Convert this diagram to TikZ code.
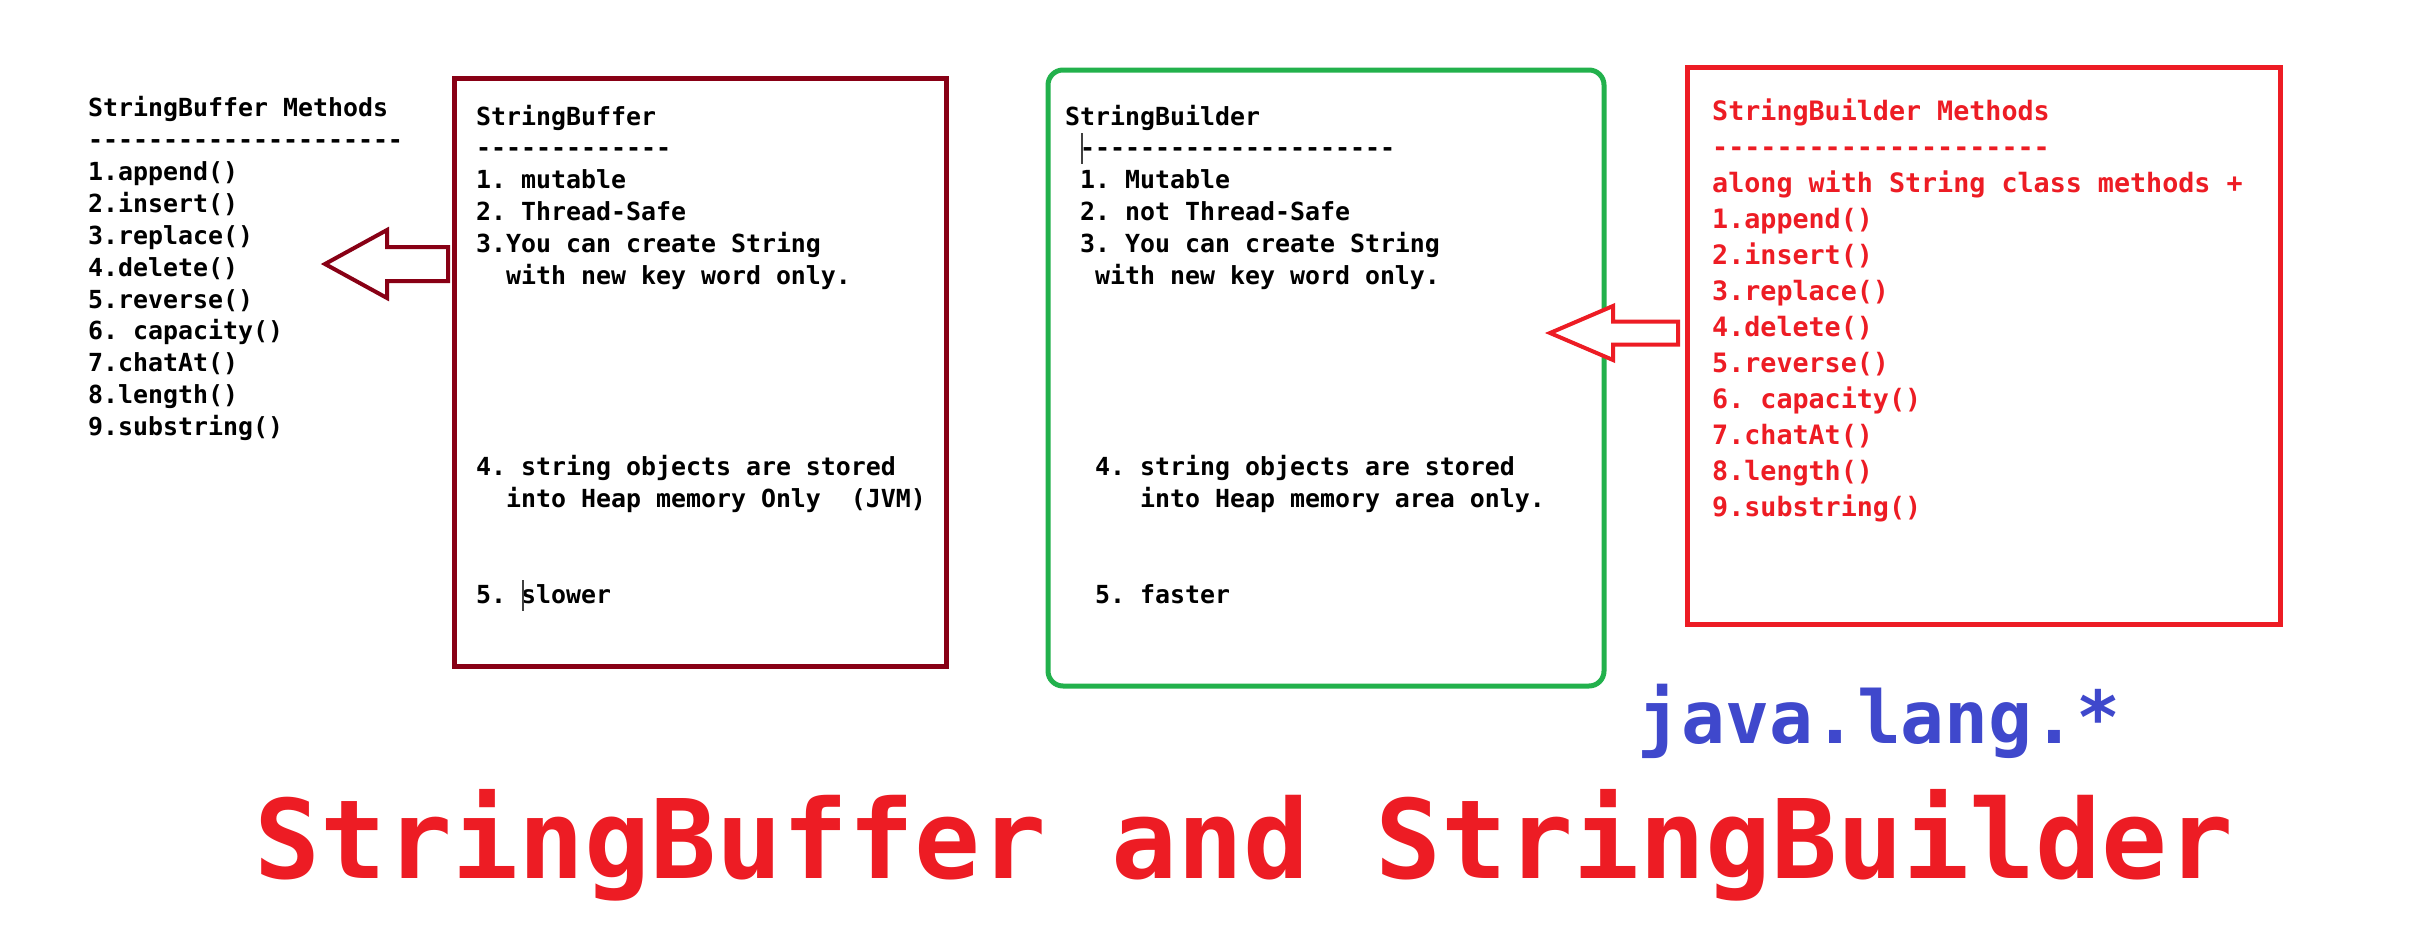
\documentclass[tikz,border=0pt]{standalone}
\usepackage{fontspec}
\setmonofont{DejaVu Sans Mono}
\usetikzlibrary{calc}
\definecolor{pdarkred}{RGB}{136,0,21}
\definecolor{pgreen}{RGB}{34,177,76}
\definecolor{pred}{RGB}{237,28,36}
\definecolor{pblue}{RGB}{63,72,204}
\begin{document}
\begin{tikzpicture}[x=1pt,y=-1pt,
  txtline/.style={anchor=base west, inner sep=0pt, text=black,
    font={\ttfamily\bfseries\fontsize{24.9}{30}\selectfont}},
  redline/.style={txtline, text=pred,
    font={\ttfamily\bfseries\fontsize{26.7}{32}\selectfont}},
  panel/.style={draw, line width=5pt, inner sep=0pt, anchor=north west},
  hollowarrow/.style={line width=4pt, line join=miter, fill=white},
  cursorbar/.style={line width=1.2pt, draw=black!75}
]
\fill[white] (0,0) rectangle (2412,948);
\useasboundingbox (0,0) rectangle (2412,948);

% panels
\node[panel, draw=pdarkred, minimum width=492pt, minimum height=588.5pt] (sbuf) at (452,75.5) {};
\node[panel, draw=pgreen, rounded corners=15pt, minimum width=556pt, minimum height=616pt] (sbld) at (1045.5,67.5) {};
\node[panel, draw=pred, minimum width=593pt, minimum height=557pt] (sbm) at (1685,65) {};

% left methods list
\foreach \t [count=\i from 0] in {StringBuffer Methods, ---------------------, 1.append(), 2.insert(), 3.replace(), 4.delete(), 5.reverse(), 6. capacity(), 7.chatAt(), 8.length(), 9.substring()}
  \node[txtline] (lm\i) at (88,116.6+31.9*\i) {\t};

% StringBuffer box text
\foreach \i/\t in {0/StringBuffer, 1/-------------, 2/1. mutable, 3/2. Thread-Safe, 4/3.You can create String, 5/~~with new key word only., 11/4. string objects are stored, 12/~~into Heap memory Only~~(JVM), 15/5. slower}
  \node[txtline] (bf\i) at (476,125+31.9*\i) {\t};

% StringBuilder box text
\foreach \i/\t in {0/StringBuilder, 1/~---------------------, 2/~1. Mutable, 3/~2. not Thread-Safe, 4/~3. You can create String, 5/~~with new key word only., 11/~~4. string objects are stored, 12/~~~~~into Heap memory area only., 15/~~5. faster}
  \node[txtline] (bd\i) at (1065,125+31.9*\i) {\t};

% StringBuilder methods list
\foreach \t [count=\i from 0] in {StringBuilder Methods, ---------------------, along with String class methods +, 1.append(), 2.insert(), 3.replace(), 4.delete(), 5.reverse(), 6. capacity(), 7.chatAt(), 8.length(), 9.substring()}
  \node[redline] (rm\i) at (1712,120+36*\i) {\t};

% text cursor marks
\draw[cursorbar] (523,580) -- (523,611);
\draw[cursorbar] (1082,133) -- (1082,164);

% hollow arrows
\coordinate (latip) at (325,264);
\coordinate (ratip) at (1550,333);
\draw[hollowarrow, draw=pdarkred, shift={(latip)}]
  (0,0) -- (62,-34) -- (62,-17) -- (123,-17) -- (123,17) -- (62,17) -- (62,34) -- cycle;
\draw[hollowarrow, draw=pred, shift={(ratip)}]
  (0,0) -- (63,-27) -- (63,-11.5) -- (128,-11.5) -- (128,11.5) -- (63,11.5) -- (63,27) -- cycle;

% package and title
\node[anchor=base, inner sep=0pt, text=pblue,
  font={\ttfamily\bfseries\fontsize{73}{80}\selectfont}] (pkg) at (1879,743) {java.lang.*};
\node[anchor=base, inner sep=0pt, text=pred,
  font={\ttfamily\bfseries\fontsize{109.6}{120}\selectfont}] (title) at (1244,878) {StringBuffer and StringBuilder};
\end{tikzpicture}
\end{document}
